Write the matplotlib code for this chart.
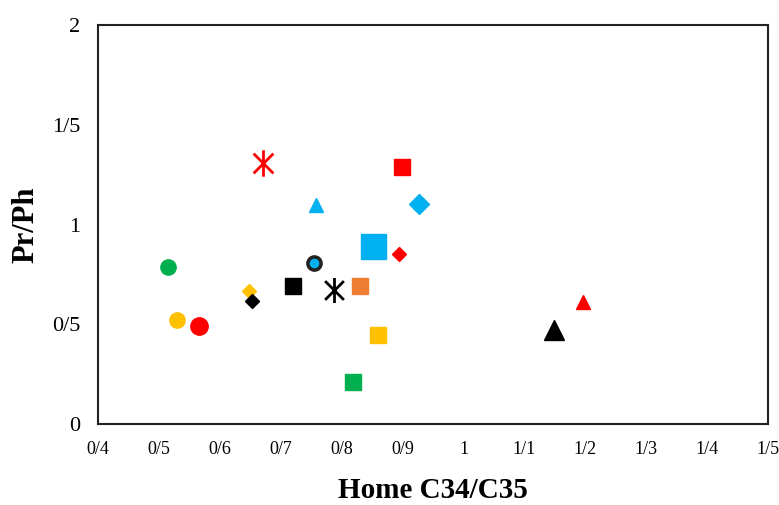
import matplotlib.pyplot as plt
from matplotlib.path import Path

# Home C34/C35 vs Pr/Ph values
home = [0.670, 0.899, 0.757, 0.927, 0.851, 0.894, 0.514, 0.754, 0.720, 0.787,
        0.830, 0.647, 0.652, 0.530, 0.565, 0.860, 0.818, 1.148, 1.196]
prph = [1.308, 1.288, 1.098, 1.103, 0.892, 0.852, 0.787, 0.807, 0.692, 0.672,
        0.692, 0.667, 0.617, 0.521, 0.491, 0.446, 0.211, 0.471, 0.612]

xticks = [0.4, 0.5, 0.6, 0.7, 0.8, 0.9, 1.0, 1.1, 1.2, 1.3, 1.4, 1.5]
xticklabels = ['0/4', '0/5', '0/6', '0/7', '0/8', '0/9', '1', '1/1', '1/2', '1/3', '1/4', '1/5']
yticks = [0, 0.5, 1, 1.5, 2]
yticklabels = ['0', '0/5', '1', '1/5', '2']

# excel-like star: vertical bar plus an X
star = Path([(0, -1), (0, 1), (-0.75, -0.75), (0.75, 0.75), (-0.75, 0.75), (0.75, -0.75)],
            [Path.MOVETO, Path.LINETO] * 3)

markers = ['star', 's', '^', 'D', 's', 'D', 'o', 'o', 's', 'star',
           's', 'D', 'D', 'o', 'o', 's', 's', '^', '^']
colors = ['red', 'red', '#00B0F0', '#00B0F0', '#00B0F0', 'red', '#00B050', '#00B0F0', 'black', 'black',
          '#ED7D31', '#FFC000', 'black', '#FFC000', 'red', '#FFC000', '#00B050', 'black', 'red']
msizes = [19, 11, 10, 10, 18, 7, 11, 9.5, 11, 18,
          11, 7, 7, 11, 12.5, 11, 11, 14, 10.5]

plt.rcParams['font.family'] = ['Liberation Serif', 'DejaVu Serif']

fig = plt.figure(figsize=(7.79, 5.05), dpi=100)
ax = fig.add_axes([0.126, 0.160, 0.860, 0.790])

for x, y, m, c, s in zip(home, prph, markers, colors, msizes):
    if m == 'star':
        ax.plot(x, y, marker=star, ms=s, color=c, mec=c, mew=2, ls='none')
    elif c == '#00B0F0' and m == 'o':
        ax.plot(x, y, marker=m, ms=s, mfc=c, mec='#222222', mew=2.5, ls='none')
    else:
        ax.plot(x, y, marker=m, ms=s, color=c, mec=c, ls='none')

ax.set_xlim(0.4, 1.5)
ax.set_ylim(0, 2)
ax.set_xticks(xticks)
ax.set_xticklabels(xticklabels, fontsize=13)
ax.set_yticks(yticks)
ax.set_yticklabels(yticklabels, fontsize=16)
ax.tick_params(length=0)
ax.tick_params(axis='x', pad=12)
ax.tick_params(axis='y', pad=13)
for sp in ax.spines.values():
    sp.set_linewidth(1.5)
    sp.set_color('#222222')

ax.set_xlabel('Home C34/C35', fontsize=21, fontweight='bold', labelpad=14)
ax.set_ylabel('Pr/Ph', fontsize=22, fontweight='bold', labelpad=8)

fig.savefig('out.png', dpi=100)
